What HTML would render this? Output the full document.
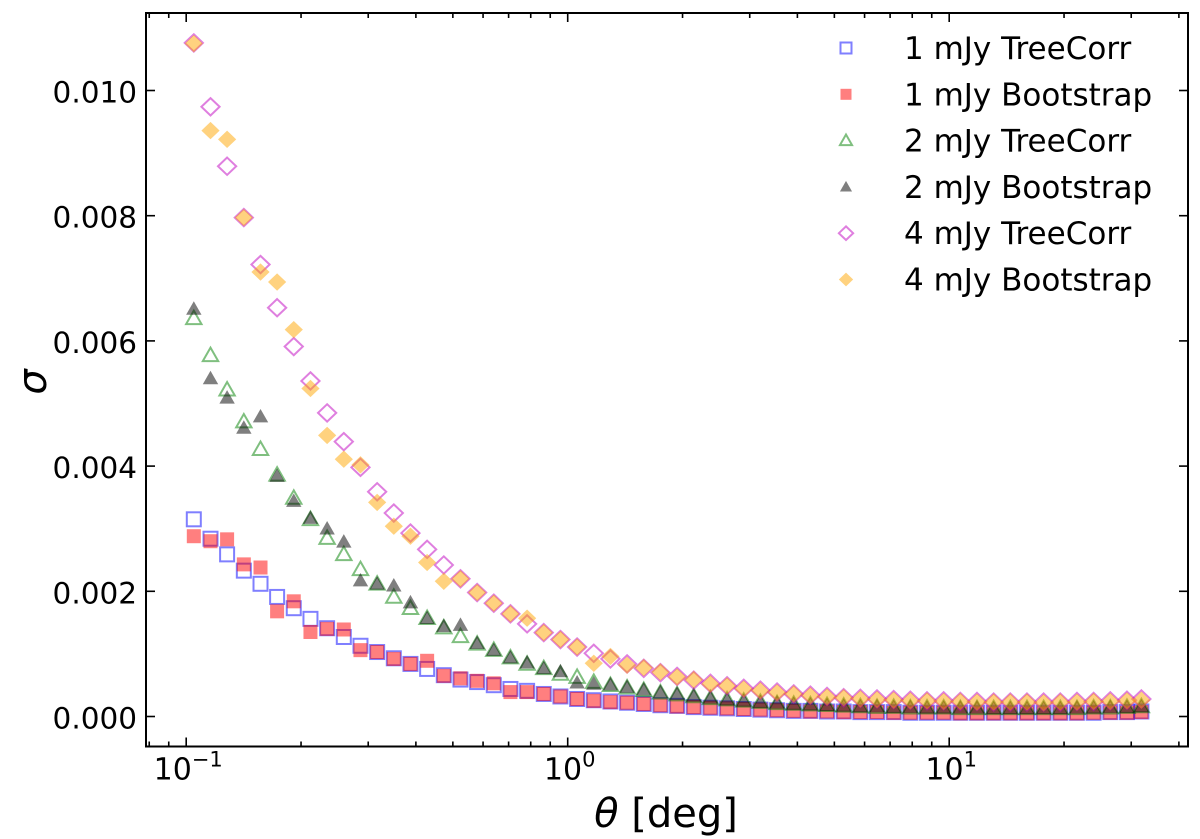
<!DOCTYPE html>
<html><head><meta charset="utf-8"><style>
html,body{margin:0;padding:0;background:#fff;}
svg{display:block;font-family:"DejaVu Sans","Liberation Sans",sans-serif;}
</style></head><body>
<svg id="chart" width="1200" height="839" viewBox="0 0 1200 839" xmlns="http://www.w3.org/2000/svg">
<g id="marks"></g>
<g id="axes"></g>
<g id="legend"></g>
<text x="0" y="0" transform="translate(46,382) rotate(-90)" text-anchor="middle" font-size="40" font-style="italic">σ</text>
<text x="666" y="827" text-anchor="middle" font-size="40"><tspan font-style="italic">θ</tspan> [deg]</text>
</svg>
<script>
const theta=[0.1047,0.1158,0.1280,0.1416,0.1566,0.1731,0.1914,0.2117,0.2341,0.2589,0.2863,0.3166,0.3501,0.3871,0.4281,0.4734,0.5235,0.5789,0.6401,0.7078,0.7827,0.8655,0.9571,1.0584,1.1704,1.2942,1.4311,1.5825,1.7500,1.9351,2.1398,2.3662,2.6166,2.8934,3.1995,3.5380,3.9124,4.3263,4.7840,5.2902,5.8499,6.4688,7.1532,7.9100,8.7469,9.6723,10.696,11.827,13.079,14.462,15.992,17.684,19.555,21.624,23.912,26.442,29.240,31.9];
const tc1=[.00315,.00284,.00259,.00233,.00212,.00191,.00173,.00156,.00141,.00127,.00113,.00103,.00093,.00084,.00076,.00066,.00059,.00055,.00050,.00044,.00041,.00036,.00032,.00028,.00026,0.00024,0.00022,0.00020,0.00018,0.00017,0.00015,0.00014,0.00013,0.00012,0.00011,0.00010,0.00009,0.00009,0.00008,0.00008,0.00007,0.00007,0.00007,0.00006,0.00006,0.00006,0.00006,0.00006,0.00006,0.00006,0.00006,0.00006,0.00006,0.00006,0.00006,0.00007,0.00007,0.00008];
const bs1=[.00288,.00280,.00283,.00243,.00238,.00168,.00184,.00135,.00140,.00139,.00106,.00103,.00092,.00084,.00089,.00065,.00061,.00057,.00053,.00039,.00039,.00036,.00032,.00028,.00025,0.00023,0.00022,0.00020,0.00018,0.00016,0.00015,0.00014,0.00013,0.00012,0.00011,0.00010,0.00009,0.00008,0.00008,0.00007,0.00007,0.00007,0.00006,0.00006,0.00006,0.00006,0.00005,0.00005,0.00005,0.00005,0.00005,0.00005,0.00005,0.00005,0.00006,0.00006,0.00006,0.00007];
const tc2=[.00636,.00577,.00522,.00471,.00427,.00386,.00349,.00315,.00285,.00259,.00235,.00212,.00191,.00173,.00157,.00142,.00128,.00116,.00106,.00094,.00084,.00077,.00068,.00063,.00055,0.00050,0.00046,0.00042,0.00038,0.00035,0.00032,0.00029,0.00027,0.00025,0.00023,0.00021,0.00020,0.00019,0.00018,0.00017,0.00016,0.00015,0.00015,0.00014,0.00014,0.00014,0.00013,0.00013,0.00013,0.00013,0.00013,0.00013,0.00013,0.00013,0.00014,0.00014,0.00015,0.00016];
const bs2=[.00651,.00540,.00509,.00461,.00479,.00384,.00344,.00317,.00300,.00279,.00217,.00212,.00209,.00182,.00157,.00144,.00146,.00117,.00106,.00094,.00086,.00077,.00072,.00054,.00052,0.00051,0.00047,0.00043,0.00039,0.00036,0.00033,0.00030,0.00027,0.00025,0.00023,0.00022,0.00020,0.00019,0.00018,0.00017,0.00016,0.00016,0.00015,0.00015,0.00014,0.00014,0.00014,0.00014,0.00013,0.00013,0.00013,0.00013,0.00013,0.00014,0.00014,0.00015,0.00015,0.00016];
const tc4=[.01076,.00974,.00879,.00797,.00722,.00653,.00591,.00536,.00485,.00439,.00398,.00359,.00325,.00293,.00267,.00242,.00220,.00198,.00181,.00164,.00148,.00134,.00123,.00111,.00101,0.00092,0.00084,0.00077,0.00070,0.00064,0.00058,0.00053,0.00049,0.00045,0.00042,0.00039,0.00036,0.00034,0.00032,0.00030,0.00029,0.00028,0.00027,0.00026,0.00025,0.00025,0.00024,0.00024,0.00023,0.00023,0.00023,0.00023,0.00023,0.00024,0.00024,0.00025,0.00026,0.00028];
const bs4=[.01075,.00936,.00922,.00797,.00710,.00694,.00618,.00524,.00449,.00411,.00402,.00342,.00304,.00288,.00246,.00216,.00220,.00198,.00181,.00164,.00157,.00134,.00123,.00111,.00085,0.00096,0.00082,0.00078,0.00071,0.00063,0.00059,0.00052,0.00049,0.00044,0.00041,0.00038,0.00036,0.00033,0.00031,0.00030,0.00028,0.00027,0.00026,0.00025,0.00025,0.00024,0.00024,0.00023,0.00023,0.00023,0.00023,0.00022,0.00023,0.00023,0.00024,0.00024,0.00025,0.00026];
const yTicks=[0,0.002,0.004,0.006,0.008,0.010];
const yTickLabels=["0.000","0.002","0.004","0.006","0.008","0.010"];
const xDecades=[-1,0,1];
const xDecadeLabels=["-1","0","1"];
const seriesNames=["1 mJy TreeCorr","1 mJy Bootstrap","2 mJy TreeCorr","2 mJy Bootstrap","4 mJy TreeCorr","4 mJy Bootstrap"];

const NS="http://www.w3.org/2000/svg";
const L=146,R=1188,T=13,B=746.5;
function xs(v){return 567.7+(Math.log10(v))*381.5;}
function ys(v){return 716.5-v*62600;}
function mk(tag,attrs,parent){const e=document.createElementNS(NS,tag);for(const k in attrs)e.setAttribute(k,attrs[k]);parent.appendChild(e);return e;}
const styles=[
 {shape:'sq',fill:'none',stroke:'blue'},
 {shape:'sq',fill:'red',stroke:'none'},
 {shape:'tri',fill:'none',stroke:'green'},
 {shape:'tri',fill:'black',stroke:'none'},
 {shape:'dia',fill:'none',stroke:'m'},
 {shape:'dia',fill:'orange',stroke:'none'}];
const colMap={blue:'#0000ff',red:'#ff0000',green:'#008000',black:'#000000',m:'#bf00bf',orange:'#ffa500'};
function marker(parent,st,cx,cy,s){
 let e;
 const fill=st.fill==='none'?'none':colMap[st.fill];
 const stroke=st.stroke==='none'?'none':colMap[st.stroke];
 const a={fill:fill,stroke:stroke,'stroke-width':2,opacity:0.5};
 if(st.shape==='sq'){a.x=cx-s/2;a.y=cy-s/2;a.width=s;a.height=s;e=mk('rect',a,parent);}
 else if(st.shape==='tri'){const h=s*0.55;a.points=`${cx},${cy-h} ${cx-h},${cy+h*0.75} ${cx+h},${cy+h*0.75}`;e=mk('polygon',a,parent);}
 else {const h=s*0.62;a.points=`${cx},${cy-h} ${cx+h*1.05},${cy} ${cx},${cy+h} ${cx-h*1.05},${cy}`;e=mk('polygon',a,parent);}
 return e;
}
const data=[tc1,bs1,tc2,bs2,tc4,bs4];
const marks=document.getElementById('marks');
data.forEach((arr,si)=>{
 const g=mk('g',{},marks);
 
 
 arr.forEach((v,i)=>{
  const e=marker(g,styles[si],xs(theta[i]),ys(v),14);
  
  
 });
});
const ax=document.getElementById('axes');
const frame=mk('rect',{x:L,y:T,width:R-L,height:B-T,fill:'none',stroke:'#000','stroke-width':2},ax);


yTicks.forEach((v,i)=>{
 const y=ys(v);
 mk('line',{x1:L,x2:L+9,y1:y,y2:y,stroke:'#000','stroke-width':1.6},ax);
 mk('line',{x1:R,x2:R-9,y1:y,y2:y,stroke:'#000','stroke-width':1.6},ax);
 const t=mk('text',{x:L-9,y:y+12,'text-anchor':'end','font-size':29.5},ax);
 t.textContent=yTickLabels[i];
 
 
});
for(let d=-2;d<=2;d++){
 for(let m=1;m<10;m++){
  const v=m*Math.pow(10,d);const x=xs(v);
  if(x<L||x>R)continue;
  const len=m===1?9:5;
  mk('line',{x1:x,x2:x,y1:B,y2:B-len,stroke:'#000','stroke-width':1.6},ax);
  mk('line',{x1:x,x2:x,y1:T,y2:T+len,stroke:'#000','stroke-width':1.6},ax);
 }
}
xDecades.forEach((d,i)=>{
 const x=xs(Math.pow(10,d));
 const t=mk('text',{x:x+2,y:B+33,'text-anchor':'middle','font-size':30},ax);
 
 
 t.textContent='10';
 const s=mk('tspan',{dy:-13,'font-size':21},t);
 s.textContent=xDecadeLabels[i].replace('-','\u2212');
});
const lg=document.getElementById('legend');
seriesNames.forEach((n,i)=>{
 const y=48+i*46.3;
 const g=mk('g',{},lg);
 
 
 marker(g,styles[i],846,y,11);
 const t=mk('text',{x:904,y:y+11,'font-size':31},g);
 t.textContent=n;
});
</script>
</body></html>
